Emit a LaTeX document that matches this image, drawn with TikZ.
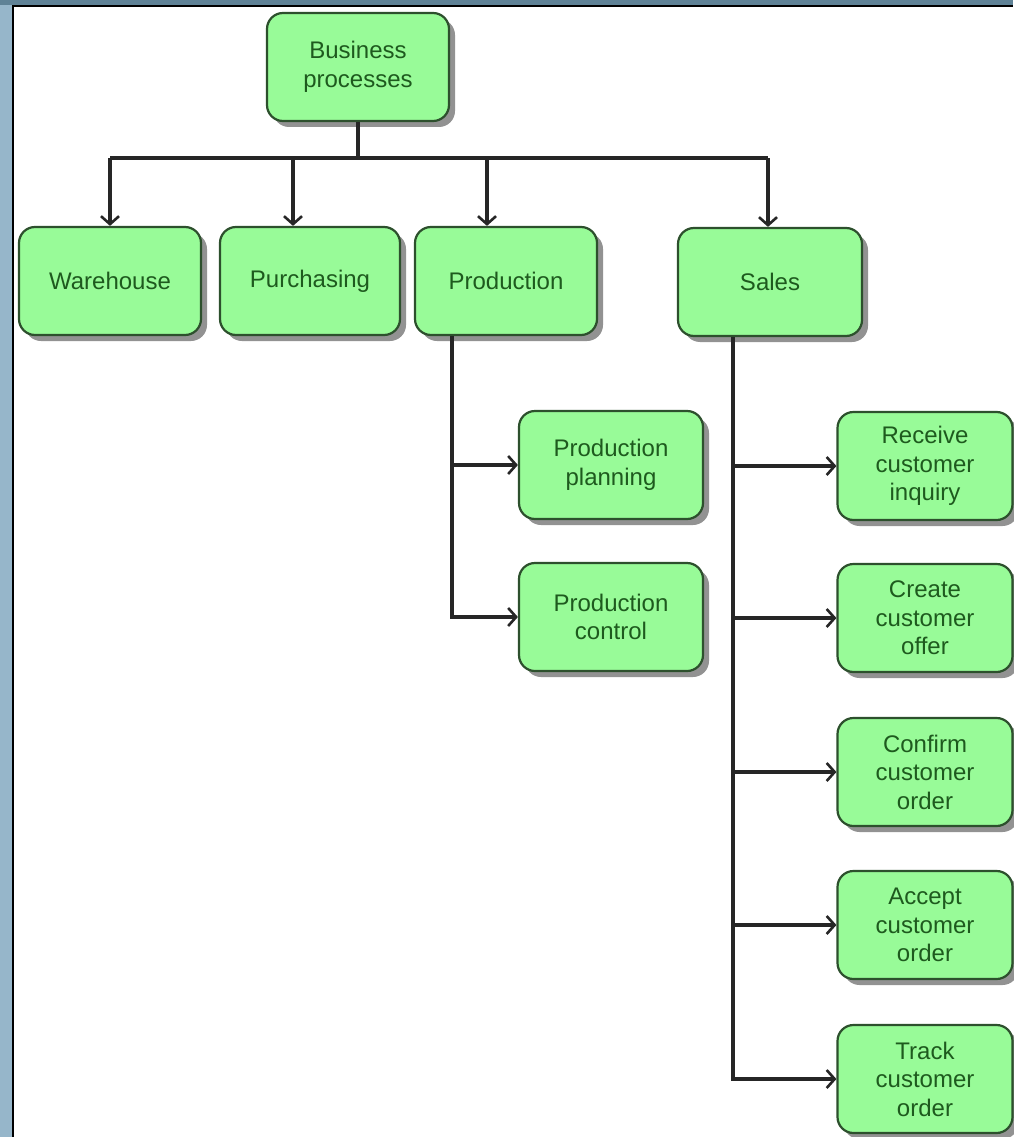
\documentclass[tikz,border=0pt]{standalone}
\usepackage{fontspec}
\setmainfont{Liberation Sans}
\usetikzlibrary{arrows.meta,shadows,calc}
\definecolor{boxfill}{RGB}{152,251,152}
\definecolor{boxline}{RGB}{45,80,45}
\definecolor{boxtext}{RGB}{30,90,30}
\definecolor{frameblue}{RGB}{150,182,202}
\definecolor{frametop}{RGB}{95,130,150}
\definecolor{shadowgray}{RGB}{100,100,100}

\begin{document}
\begin{tikzpicture}[x=1pt,y=-1pt,
  procbox/.style={draw=boxline, line width=2.2pt, fill=boxfill,
    rounded corners=16pt, minimum width=182pt, minimum height=108pt,
    text=boxtext, align=center, inner sep=0pt,
    font=\fontsize{24}{28.5}\selectfont,
    drop shadow={shadow xshift=6pt, shadow yshift=-6pt,
      fill=shadowgray, opacity=0.7}},
  kidbox/.style={procbox, minimum width=175pt},
  link/.style={line width=3.2pt, draw=black!85},
  tip/.style={-{Straight Barb[length=8pt,width=18pt,line width=2.6pt]}}
]
\useasboundingbox (0,0) rectangle (1013,1137);

% window frame and white canvas
\fill[frameblue] (0,0) rectangle (1013,1137);
\fill[frametop] (0,0) rectangle (1013,5);
\fill[white] (14,7) rectangle (1013,1137);
\draw[line width=2.5pt, black] (13,1137) -- (13,6) -- (1013,6);

% top level
\node[procbox] (bp) at (358,67) {Business\\processes};

% second level
\node[procbox] (wh) at (110,281) {Warehouse};
\node[procbox, minimum width=180pt] (pur) at (310,281) {Purchasing};
\node[procbox] (prod) at (506,281) {Production};
\node[procbox, minimum width=184pt] (sales) at (770,282) {Sales};

% production sub-processes
\node[procbox, minimum width=184pt] (pp) at (611,465) {Production\\planning};
\node[procbox, minimum width=184pt] (pc) at (611,617) {Production\\control};

% sales sub-processes
\node[kidbox] (s1) at (925,466) {Receive\\customer\\inquiry};
\node[kidbox] (s2) at (925,618) {Create\\customer\\offer};
\node[kidbox] (s3) at (925,772) {Confirm\\customer\\order};
\node[kidbox] (s4) at (925,925) {Accept\\customer\\order};
\node[kidbox] (s5) at (925,1079) {Track\\customer\\order};

% bus from the top process to the second level
\coordinate (bus) at (358,158);
\coordinate (dwh) at (110,158);
\coordinate (dpur) at (293,158);
\coordinate (dprod) at (487,158);
\coordinate (dsales) at (768,158);
\draw[link] (bp.south) -- (bp.south |- bus);
\draw[link] (dwh) -- (dsales);
\draw[link,tip] (dwh) -- (dwh |- wh.north);
\draw[link,tip] (dpur) -- (dpur |- pur.north);
\draw[link,tip] (dprod) -- (dprod |- prod.north);
\draw[link,tip] (dsales) -- (dsales |- sales.north);

% production branch
\coordinate (pv) at (452,0);
\draw[link,tip] (prod.south -| pv) -- (pc.west -| pv) -- (pc.west);
\draw[link,tip] (pp.west -| pv) -- (pp.west);

% sales branch
\coordinate (sv) at (733,0);
\draw[link,tip] (sales.south -| sv) -- (s5.west -| sv) -- (s5.west);
\foreach \k in {s1,s2,s3,s4}
  \draw[link,tip] (\k.west -| sv) -- (\k.west);
\end{tikzpicture}
\end{document}
